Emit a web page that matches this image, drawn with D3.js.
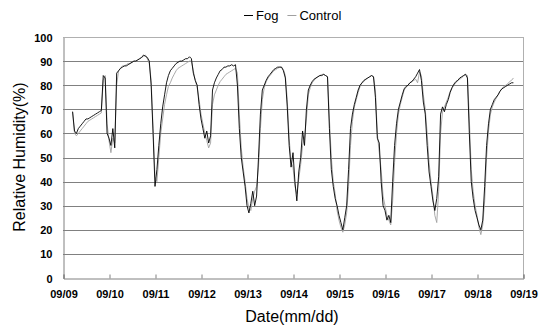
<!DOCTYPE html>
<html><head><meta charset="utf-8">
<script src="https://cdn.jsdelivr.net/npm/d3@7"></script>
<style>
html,body{margin:0;padding:0;background:#fff;}
svg{display:block;font-family:"Liberation Sans",Arial,sans-serif;}
</style></head>
<body>
<svg id="chart" width="540" height="327"></svg>
<script>
// ---- data ----
const seriesNames = ["Fog", "Control"];
const xTickLabels = ["09/09","09/10","09/11","09/12","09/13","09/14","09/15","09/16","09/17","09/18","09/19"];
const yTicks = [0,10,20,30,40,50,60,70,80,90,100];
const startHour = 5; // hourly readings from 09/09 05:00
const fogRH = [
  69,61,60,62,63,64,65,66,66,66.5,67,67.5,68,68.5,69,69.5,84,83,60,
  58,55,62,54,85,86,87,87.5,88,88,88.5,89,89.5,90,90,90.5,91,91.5,92.5,92,91.5,90,80,60,
  38,45,55,64,71,76,81,84,86,87,88,89,89.5,90,90,90.5,91,91,91.8,91,85,82,80,72,
  66,62,58,61,56,59,78,81,83,84.5,86,86.5,87.5,87.5,88,88,88.5,88,88.5,80,62,50,44,38,
  30,27,31,36,30,34,50,68,78,80,82,83.5,84.5,85.5,86.5,87,87.5,87.5,87.5,86,83,71,55,46,
  52,40,32,44,50,61,55,70,78,80,81.5,82.5,83,83.5,84,84,84.5,84,83.5,62,45,38,33,30,
  26,23,20,25,30,45,62,68,72,75,78,80,81,82,82.5,83,83.5,84,83.5,75,58,56,40,30,
  28,24,26,23,40,55,64,70,73,76,78.5,79.5,80,81,81.5,82.5,83.5,85,86.5,82,73,68,55,44,
  38,32,28,33,42,68,71,69,72,74,77,79,80.5,81.5,82,83,83.5,84,84.5,83,60,40,33,28,
  25,22,20,24,38,55,64,70,72,74,75,76,77.5,78.5,79,79.5,80,80.5,81,81
];
const controlRH = [
  69,60,59,60,61,62,63,64,65,65.5,66,66.5,67,67.5,68,68.5,82,84,64,
  57,52,58,56,80,86,87,88,88,88.5,89,89,89.5,90,90,90.5,91,91.5,92,92.5,91,89,82,62,
  42,40,50,60,66,72,76,79.5,81,83,84.5,86,87,87.5,88,88.5,89,89.5,90,90,86,82,79,74,
  68,64,60,57,54,56,72,76,78,80,81.5,82.5,83.5,84.5,85,85.5,86,86.5,87,85,68,54,46,40,
  33,29,28,33,36,38,46,62,74,79,81.5,83,84,85,86,86.5,87,87.5,87.5,86.5,84,74,58,48,
  46,38,35,41,47,55,58,66,76,79,81,82,83,83.5,84,84.5,84.5,84,83.5,66,50,40,35,28,
  24,21,19,22,27,38,55,65,71,74,77,79.5,81,81.5,82.5,83,83.5,84,83.5,78,60,52,45,34,
  30,26,24,22,32,48,60,68,72,75,78,79,80,81,81.5,82,82.5,81,85.5,84,76,70,60,48,
  40,34,26,23,36,60,69,71,73,75,77.5,79,80,81,82,82.5,83,84,84.5,84,66,45,36,30,
  26,21,18,22,32,50,61,68,71,73,74.5,76,77.5,78.5,79.5,80,80.5,81.5,82,83
];

// ---- chart ----
const svg = d3.select("#chart");
const L = 63, R = 523, T = 37, B = 278;
const x = d3.scaleLinear().domain([0, 10]).range([L, R]);
const y = d3.scaleLinear().domain([0, 100]).range([B, T]);

// gridlines
svg.append("g").selectAll("line").data(yTicks.filter(v => v > 0)).join("line")
  .attr("x1", L).attr("x2", R)
  .attr("y1", d => Math.round(y(d)) + 0.5).attr("y2", d => Math.round(y(d)) + 0.5)
  .attr("stroke", d => d === 100 ? "#b0b0b0" : "#808080").attr("stroke-width", 1);
// right border
svg.append("line").attr("x1", R + 0.5).attr("x2", R + 0.5).attr("y1", T).attr("y2", B)
  .attr("stroke", "#b0b0b0");

// y axis
const yAxis = svg.append("g").attr("transform", `translate(${L + 0.5},0.5)`)
  .call(d3.axisLeft(y).tickValues(yTicks).tickSize(0).tickPadding(11));
yAxis.select(".domain").attr("stroke", "#808080");
yAxis.selectAll("text").attr("font-size", 11).attr("fill", "#000").attr("font-weight", "bold")
  .style("font-family", "'Liberation Sans',Arial,sans-serif");

// x axis
const xAxis = svg.append("g").attr("transform", `translate(0.5,${B + 0.5})`)
  .call(d3.axisBottom(x).tickValues(d3.range(11)).tickFormat(i => xTickLabels[i]).tickSize(-4).tickPadding(12));
xAxis.select(".domain").attr("stroke", "#808080");
xAxis.selectAll(".tick line").attr("stroke", "#808080");
xAxis.selectAll("text").attr("font-size", 11).attr("fill", "#000").attr("font-weight", "bold")
  .style("font-family", "'Liberation Sans',Arial,sans-serif");

// lines
const line = d3.line()
  .x((d, i) => x((startHour + i) / 24))
  .y(d => y(d));
svg.append("path").datum(controlRH).attr("d", line)
  .attr("fill", "none").attr("stroke", "#a0a0a0").attr("stroke-width", 0.9);
svg.append("path").datum(fogRH).attr("d", line)
  .attr("fill", "none").attr("stroke", "#000").attr("stroke-width", 0.9);

// axis titles
svg.append("text").attr("x", 292).attr("y", 322).attr("text-anchor", "middle")
  .attr("font-size", 16).text("Date(mm/dd)");
svg.append("text").attr("transform", "translate(25,157) rotate(-90)").attr("text-anchor", "middle")
  .attr("font-size", 16).text("Relative Humidity(%)");

// legend
const legendColors = ["#000", "#a0a0a0"];
const lg = svg.append("g").attr("transform", "translate(244,15)");
let lx = 0;
seriesNames.forEach((name, i) => {
  lg.append("line").attr("x1", lx).attr("x2", lx + 9).attr("y1", 0.5).attr("y2", 0.5)
    .attr("stroke", legendColors[i]).attr("stroke-width", 1);
  const t = lg.append("text").attr("x", lx + 12).attr("y", 5).attr("font-size", 13).text(name);
  lx += 12 + t.node().getComputedTextLength() + 9;
});
</script>
</body></html>
